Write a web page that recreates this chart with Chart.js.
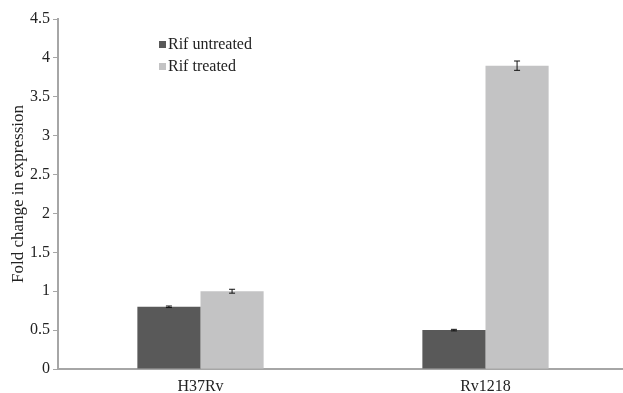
<!DOCTYPE html>
<html>
<head>
<meta charset="utf-8">
<script src="https://cdn.jsdelivr.net/npm/chart.js@4/dist/chart.umd.min.js"></script>
<style>
  html, body { margin: 0; padding: 0; background: #fff; overflow: hidden; }
  #wrap { width: 623px; height: 393px; overflow: hidden; }
</style>
</head>
<body>
<div id="wrap"><canvas id="c" width="630" height="393"></canvas></div>
<script>
// Strains on the x axis
const categories = ['H37Rv', 'Rv1218'];
// Series names
const seriesNames = ['Rif untreated', 'Rif treated'];
// Mean fold change per strain
const untreated = [0.80, 0.50];
const treated = [1.00, 3.90];
// Standard error for each bar
const untreatedErr = [0.01, 0.01];
const treatedErr = [0.025, 0.06];
// Y-axis tick values
const yTicks = [0, 0.5, 1, 1.5, 2, 2.5, 3, 3.5, 4, 4.5];

const serif = '"Liberation Serif", "Times New Roman", serif';
const axisGray = '#a6a6a6';

// Draws the error whiskers on top of each bar
const errorBars = {
  id: 'errorBars',
  afterDatasetsDraw(chart) {
    const ctx = chart.ctx;
    const y = chart.scales.y;
    chart.data.datasets.forEach((ds, i) => {
      const meta = chart.getDatasetMeta(i);
      meta.data.forEach((bar, j) => {
        const v = ds.data[j];
        const e = ds.errors[j];
        const top = y.getPixelForValue(v + e);
        const bot = y.getPixelForValue(v - e);
        const x = bar.x;
        ctx.save();
        ctx.strokeStyle = '#111';
        ctx.lineWidth = 1;
        ctx.beginPath();
        ctx.moveTo(x, top); ctx.lineTo(x, bot);
        ctx.moveTo(x - 3, top); ctx.lineTo(x + 3, top);
        ctx.moveTo(x - 3, bot); ctx.lineTo(x + 3, bot);
        ctx.stroke();
        ctx.restore();
      });
    });
  }
};

// Legend drawn inside the plot area, upper left
const innerLegend = {
  id: 'innerLegend',
  afterDraw(chart) {
    const ctx = chart.ctx;
    const x0 = 159, rows = [45, 67];
    ctx.save();
    ctx.font = '16px ' + serif;
    ctx.textBaseline = 'middle';
    chart.data.datasets.forEach((ds, i) => {
      ctx.fillStyle = ds.backgroundColor;
      ctx.fillRect(x0, rows[i] - 4, 7, 7);
      ctx.fillStyle = '#222';
      ctx.fillText(ds.label, x0 + 9, rows[i]);
    });
    ctx.restore();
  }
};

new Chart(document.getElementById('c'), {
  type: 'bar',
  data: {
    labels: categories,
    datasets: [
      { label: seriesNames[0], data: untreated, errors: untreatedErr,
        backgroundColor: '#595959', barPercentage: 1, categoryPercentage: 0.443 },
      { label: seriesNames[1], data: treated, errors: treatedErr,
        backgroundColor: '#c3c3c4', barPercentage: 1, categoryPercentage: 0.443 }
    ]
  },
  options: {
    responsive: false,
    animation: false,
    layout: { padding: { top: 19, right: 2, bottom: 0, left: 0 } },
    plugins: { legend: { display: false }, tooltip: { enabled: false } },
    scales: {
      x: {
        grid: { display: false },
        border: { color: axisGray, width: 2 },
        ticks: { color: '#222', font: { family: serif, size: 16 }, padding: 0 },
        afterFit(s) { s.height = 24; }
      },
      y: {
        min: 0, max: 4.5,
        afterBuildTicks(s) { s.ticks = yTicks.map(v => ({ value: v })); },
        grid: { drawOnChartArea: false, color: axisGray, tickLength: 5 },
        border: { color: axisGray, width: 2 },
        ticks: { color: '#222', font: { family: serif, size: 16 }, padding: 3,
                 callback: v => String(v) },
        title: { display: true, text: 'Fold change in expression', color: '#222',
                 font: { family: serif, size: 17 }, padding: { top: 8, bottom: 0 } },
        afterFit(s) { s.width = 58; }
      }
    }
  },
  plugins: [errorBars, innerLegend]
});
</script>
</body>
</html>
